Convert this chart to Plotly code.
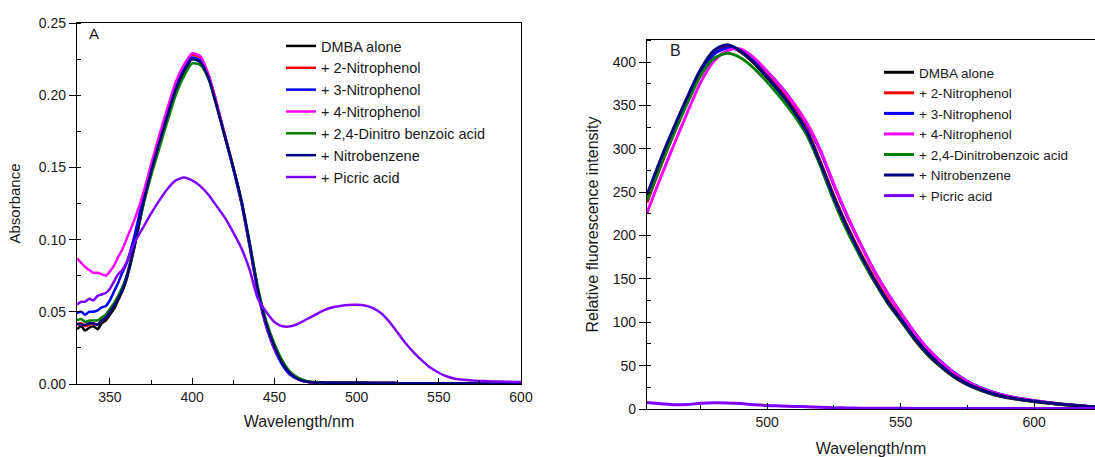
import plotly.graph_objects as go

# ---------------- Panel A: absorbance ----------------
wl_abs = [330, 332.5, 335, 337.5, 340, 342.5, 345, 347.5, 350, 352.5, 355, 357.5,
          360, 365, 370, 375, 380, 385, 390, 395, 400, 405, 410, 415, 420, 425, 430,
          435, 440, 445, 450, 455, 460, 465, 470, 475, 480, 485, 490, 495, 500, 505,
          510, 515, 520, 525, 530, 535, 540, 545, 550, 555, 560, 565, 570, 575, 580,
          585, 590, 595, 600]

abs_dmba = [0.038, 0.040, 0.037, 0.039, 0.040, 0.038, 0.042, 0.044, 0.048, 0.052, 0.058, 0.064,
            0.072, 0.095, 0.123, 0.146, 0.166, 0.185, 0.203, 0.216, 0.225, 0.223, 0.212, 0.193,
            0.172, 0.150, 0.126, 0.097, 0.066, 0.042, 0.026, 0.014, 0.007, 0.003, 0.0015, 0.0011,
            0.0010, 0.0009, 0.0009, 0.0008, 0.0008, 0.0008, 0.0007, 0.0007, 0.0007, 0.0006, 0.0006,
            0.0006, 0.0006, 0.0005, 0.0005, 0.0005, 0.0005, 0.0005, 0.0005, 0.0004, 0.0004, 0.0004,
            0.0004, 0.0004, 0.0004]
abs_2np = [0.041, 0.042, 0.040, 0.041, 0.042, 0.041, 0.044, 0.046, 0.050, 0.054, 0.060, 0.066,
           0.074, 0.098, 0.126, 0.149, 0.169, 0.188, 0.206, 0.219, 0.228, 0.226, 0.214, 0.194,
           0.172, 0.150, 0.126, 0.096, 0.065, 0.042, 0.026, 0.014, 0.007, 0.003, 0.0015, 0.0011,
           0.0010, 0.0009, 0.0009, 0.0008, 0.0008, 0.0008, 0.0007, 0.0007, 0.0007, 0.0006, 0.0006,
           0.0006, 0.0006, 0.0005, 0.0005, 0.0005, 0.0005, 0.0005, 0.0005, 0.0004, 0.0004, 0.0004,
           0.0004, 0.0004, 0.0004]
abs_3np = [0.049, 0.050, 0.048, 0.050, 0.050, 0.051, 0.053, 0.054, 0.058, 0.064, 0.070, 0.077,
           0.083, 0.103, 0.128, 0.149, 0.168, 0.187, 0.205, 0.218, 0.226, 0.224, 0.213, 0.193,
           0.171, 0.149, 0.125, 0.095, 0.063, 0.040, 0.024, 0.013, 0.006, 0.003, 0.0015, 0.0011,
           0.0010, 0.0009, 0.0009, 0.0008, 0.0008, 0.0008, 0.0007, 0.0007, 0.0007, 0.0006, 0.0006,
           0.0006, 0.0006, 0.0005, 0.0005, 0.0005, 0.0005, 0.0005, 0.0005, 0.0004, 0.0004, 0.0004,
           0.0004, 0.0004, 0.0004]
abs_4np = [0.087, 0.084, 0.081, 0.079, 0.077, 0.077, 0.076, 0.075, 0.078, 0.082, 0.088, 0.093,
           0.100, 0.114, 0.131, 0.152, 0.172, 0.191, 0.209, 0.221, 0.229, 0.227, 0.214, 0.194,
           0.172, 0.150, 0.126, 0.096, 0.064, 0.041, 0.025, 0.014, 0.007, 0.003, 0.0015, 0.0011,
           0.0010, 0.0009, 0.0009, 0.0008, 0.0008, 0.0008, 0.0007, 0.0007, 0.0007, 0.0006, 0.0006,
           0.0006, 0.0006, 0.0005, 0.0005, 0.0005, 0.0005, 0.0005, 0.0005, 0.0004, 0.0004, 0.0004,
           0.0004, 0.0004, 0.0004]
abs_dnba = [0.044, 0.045, 0.043, 0.044, 0.044, 0.044, 0.046, 0.048, 0.052, 0.056, 0.061, 0.067,
            0.074, 0.096, 0.122, 0.144, 0.163, 0.182, 0.200, 0.213, 0.222, 0.221, 0.211, 0.192,
            0.171, 0.150, 0.127, 0.098, 0.067, 0.044, 0.028, 0.016, 0.008, 0.004, 0.002, 0.0013,
            0.0011, 0.0010, 0.0009, 0.0009, 0.0008, 0.0008, 0.0007, 0.0007, 0.0007, 0.0006, 0.0006,
            0.0006, 0.0006, 0.0005, 0.0005, 0.0005, 0.0005, 0.0005, 0.0005, 0.0004, 0.0004, 0.0004,
            0.0004, 0.0004, 0.0004]
abs_nb = [0.042, 0.041, 0.041, 0.042, 0.042, 0.041, 0.044, 0.046, 0.050, 0.054, 0.059, 0.065,
          0.073, 0.096, 0.124, 0.147, 0.167, 0.186, 0.204, 0.217, 0.225, 0.223, 0.212, 0.192,
          0.171, 0.150, 0.127, 0.097, 0.065, 0.042, 0.026, 0.014, 0.007, 0.003, 0.0015, 0.0011,
          0.0010, 0.0009, 0.0009, 0.0008, 0.0008, 0.0008, 0.0007, 0.0007, 0.0007, 0.0006, 0.0006,
          0.0006, 0.0006, 0.0005, 0.0005, 0.0005, 0.0005, 0.0005, 0.0005, 0.0004, 0.0004, 0.0004,
          0.0004, 0.0004, 0.0004]
abs_pa = [0.055, 0.057, 0.057, 0.059, 0.058, 0.061, 0.062, 0.063, 0.066, 0.071, 0.076, 0.079,
          0.084, 0.098, 0.108, 0.118, 0.127, 0.135, 0.141, 0.143, 0.141, 0.137, 0.131, 0.123,
          0.115, 0.105, 0.094, 0.079, 0.059, 0.050, 0.043, 0.040, 0.040, 0.042, 0.045, 0.048,
          0.051, 0.053, 0.054, 0.0547, 0.0548, 0.0543, 0.0525, 0.0490, 0.0430, 0.0355, 0.0280, 0.0215,
          0.0160, 0.0112, 0.0078, 0.0052, 0.0037, 0.0029, 0.0024, 0.0021, 0.0019, 0.0017, 0.0016,
          0.0014, 0.0013]

# ---------------- Panel B: fluorescence ----------------
wl_fl = [455, 460, 465, 470, 475, 480, 485, 490, 495, 500, 505, 510, 515, 520, 525, 530,
         535, 540, 545, 550, 555, 560, 565, 570, 575, 580, 585, 590, 595, 600, 605, 610,
         615, 620, 625]

fl_dmba = [245, 285, 322, 357, 389, 411, 419, 412, 399, 382, 364, 343, 317, 281, 242, 207,
           176, 148, 123, 102, 81, 63, 49, 37, 28, 21.5, 16.5, 13, 10.5, 8.5, 6.8, 5.3, 4.0, 2.8, 1.9]
fl_2np = [238, 279, 317, 353, 386, 409, 417, 413, 401, 385, 367, 346, 321, 285, 246, 211,
          180, 152, 127, 105, 84, 66, 51, 38.5, 29.5, 22.5, 17.3, 13.6, 11, 8.9, 7.1, 5.5, 4.2, 3.0, 2.0]
fl_3np = [241, 281, 319, 355, 388, 409, 416, 414, 404, 389, 372, 352, 328, 297, 258, 222,
          190, 160, 134, 111, 89, 70, 55, 42, 32, 24.5, 19, 15, 12, 9.6, 7.6, 5.9, 4.4, 3.1, 2.1]
fl_4np = [226, 266, 304, 341, 376, 401, 413, 415, 405, 389, 372, 352, 329, 298, 259, 223,
          190, 160, 134, 111, 89, 70, 54.5, 41.5, 31.5, 24, 18.6, 14.7, 11.8, 9.4, 7.4, 5.8, 4.3, 3.0, 2.0]
fl_dnba = [240, 280, 317, 352, 384, 404, 410, 405, 393, 377, 359, 339, 315, 280, 240, 205,
           175, 148, 124, 103, 82, 64, 50, 38, 29, 22, 17, 13.4, 10.8, 8.7, 7.0, 5.4, 4.1, 2.9, 2.0]
fl_nb = [247, 287, 324, 359, 391, 413, 420, 413, 400, 383, 365, 344, 319, 283, 244, 209,
         178, 150, 125, 104, 83, 65, 50.5, 38, 29, 22.5, 17.3, 13.6, 11, 8.9, 7.1, 5.5, 4.2, 3.0, 2.0]
fl_pa = [7.5, 6.0, 5.0, 5.2, 6.5, 7.2, 7.0, 6.2, 5.0, 4.0, 3.5, 3.0, 2.5, 2.0, 1.5, 1.2,
         1.0, 0.9, 0.8, 0.8, 0.7, 0.7, 0.7, 0.6, 0.6, 0.6, 0.6, 0.5, 0.5, 0.5, 0.5, 0.5, 0.5, 0.5, 0.5]

names_a = ["DMBA alone", "+ 2-Nitrophenol", "+ 3-Nitrophenol", "+ 4-Nitrophenol",
           "+ 2,4-Dinitro benzoic acid", "+ Nitrobenzene", "+ Picric acid"]
names_b = ["DMBA alone", "+ 2-Nitrophenol", "+ 3-Nitrophenol", "+ 4-Nitrophenol",
           "+ 2,4-Dinitrobenzoic acid", "+ Nitrobenzene", "+ Picric acid"]
colors = ["#000000", "#FF0000", "#0000FF", "#FF00FF", "#008000", "#000080", "#8000FF"]

series_a = [abs_dmba, abs_2np, abs_3np, abs_4np, abs_dnba, abs_nb, abs_pa]
series_b = [fl_dmba, fl_2np, fl_3np, fl_4np, fl_dnba, fl_nb, fl_pa]

W, H = 1095, 457
FONT = "Liberation Sans, Arial, sans-serif"
TXT = "#1a1a1a"

fig = go.Figure()
for name, col, ys in zip(names_a, colors, series_a):
    fig.add_trace(go.Scatter(x=wl_abs, y=ys, name=name, mode="lines",
                             line=dict(color=col, width=2.5, shape="spline", smoothing=0.6),
                             xaxis="x", yaxis="y", legend="legend"))
for name, col, ys in zip(names_b, colors, series_b):
    fig.add_trace(go.Scatter(x=wl_fl, y=ys, name=name, mode="lines",
                             line=dict(color=col, width=3, shape="spline", smoothing=0.8),
                             xaxis="x2", yaxis="y2", legend="legend2"))

def px_x(p):
    return p / W

def px_y(p):
    return 1 - p / H

axis_common = dict(showline=True, linecolor="#000", linewidth=1.3, showgrid=False,
                   zeroline=False, automargin=False,
                   tickfont=dict(family=FONT, size=14, color=TXT), tickcolor="#000")

fig.update_layout(
    width=W, height=H,
    margin=dict(l=0, r=0, t=0, b=0),
    paper_bgcolor="white", plot_bgcolor="white",
    font=dict(family=FONT, color=TXT),
    xaxis=dict(domain=[px_x(77), px_x(521)], range=[330, 600], anchor="y",
               tick0=350, dtick=50, ticks="inside", ticklen=6, mirror=True,
               minor=dict(ticks="inside", ticklen=4, dtick=25, tick0=325, tickcolor="#000"),
               title=dict(text="Wavelength/nm", font=dict(family=FONT, size=16, color=TXT), standoff=11),
               **axis_common),
    yaxis=dict(domain=[px_y(384), px_y(23)], range=[0, 0.25], anchor="x",
               tick0=0, dtick=0.05, tickformat=".2f", ticks="outside", ticklen=7, mirror=True,
               minor=dict(ticks="inside", ticklen=4, dtick=0.025, tick0=0, tickcolor="#000"),
               title=dict(text="Absorbance", font=dict(family=FONT, size=15, color=TXT), standoff=14),
               **axis_common),
    xaxis2=dict(domain=[px_x(647), 1.0], range=[455, 622.8], anchor="y2",
                tick0=500, dtick=50, ticks="inside", ticklen=6, mirror=True,
                minor=dict(ticks="inside", ticklen=4, dtick=25, tick0=475, tickcolor="#000"),
                title=dict(text="Wavelength/nm", font=dict(family=FONT, size=16, color=TXT), standoff=13),
                **axis_common),
    yaxis2=dict(domain=[px_y(409), px_y(40)], range=[0, 425.4], anchor="x2",
                tick0=0, dtick=50, ticks="outside", ticklen=7, mirror=False,
                minor=dict(ticks="inside", ticklen=4, dtick=25, tick0=0, tickcolor="#000"),
                title=dict(text="Relative fluorescence intensity",
                           font=dict(family=FONT, size=16, color=TXT), standoff=10),
                **axis_common),
    legend=dict(x=px_x(281), y=px_y(30), xanchor="left", yanchor="top",
                bgcolor="rgba(0,0,0,0)", borderwidth=0,
                font=dict(family=FONT, size=14.5, color=TXT)),
    legend2=dict(x=px_x(879), y=px_y(57), xanchor="left", yanchor="top",
                 bgcolor="rgba(0,0,0,0)", borderwidth=0,
                 font=dict(family=FONT, size=13.5, color=TXT)),
    annotations=[
        dict(text="A", x=px_x(87), y=px_y(33), xref="paper", yref="paper",
             xanchor="left", yanchor="middle", showarrow=False,
             font=dict(family=FONT, size=15, color=TXT)),
        dict(text="B", x=px_x(668), y=px_y(51), xref="paper", yref="paper",
             xanchor="left", yanchor="middle", showarrow=False,
             font=dict(family=FONT, size=16, color=TXT)),
    ],
)

fig.write_html("out.html")
